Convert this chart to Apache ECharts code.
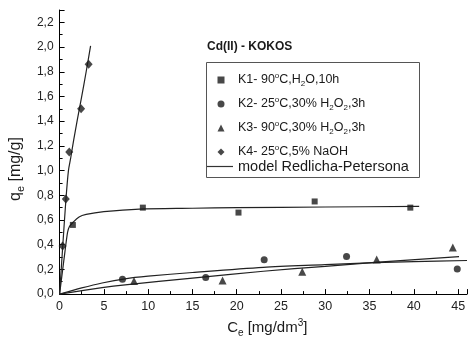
<html>
<head>
    <meta charset="utf-8">
    <script src="https://cdn.jsdelivr.net/npm/echarts@6/dist/echarts.min.js"></script>
    <style>
        body { margin: 0; background: #fff; }
        #chart { width: 470px; height: 343px; }
    </style>
</head>
<body>
    <div id="chart"></div>
    <script>
        // measured points
        var k1X = [1.5, 9.4, 20.2, 28.8, 39.6];
        var k1Y = [0.56, 0.70, 0.66, 0.75, 0.70];
        var k2X = [7.1, 16.5, 23.1, 32.4, 44.9];
        var k2Y = [0.12, 0.135, 0.278, 0.304, 0.204];
        var k3X = [8.4, 18.4, 27.4, 35.8, 44.4];
        var k3Y = [0.106, 0.11, 0.18, 0.28, 0.378];
        var k4X = [0.34, 0.7, 1.09, 2.43, 3.28];
        var k4Y = [0.39, 0.77, 1.15, 1.50, 1.86];

        // model curves
        var m1X = [0, 0.3, 0.6, 0.9, 1.1, 1.5, 2.2, 3, 5, 9, 15, 20, 30, 40.6];
        var m1Y = [0, 0.17, 0.34, 0.50, 0.545, 0.58, 0.625, 0.645, 0.667, 0.688, 0.695, 0.70, 0.705, 0.71];
        var m2X = [0, 2.5, 4.8, 7.4, 10, 15, 23, 30, 35.6, 40, 46];
        var m2Y = [0, 0.05, 0.09, 0.124, 0.145, 0.175, 0.217, 0.238, 0.255, 0.263, 0.272];
        var m3X = [0, 4.8, 7.4, 15, 23, 30, 35.6, 45.1];
        var m3Y = [0, 0.052, 0.075, 0.13, 0.185, 0.225, 0.257, 0.304];
        var m4X = [0, 0.35, 0.71, 1.0, 1.25, 1.6, 2.0, 2.5, 3.0, 3.5];
        var m4Y = [0, 0.38, 0.76, 1.0, 1.10, 1.25, 1.41, 1.60, 1.80, 2.01];

        var legendNames = ['K1', 'K2', 'K3', 'K4'];
        var legendIcons = ['rect', 'circle', 'triangle', 'diamond'];
        var legendText = {
            K1: '{g| }{t|K1- 90}{sup|o}{t|C,H}{sub|2}{t|O,10h}',
            K2: '{g| }{t|K2- 25}{sup|o}{t|C,30% H}{sub|2}{t|O}{sub|2}{t|,3h}',
            K3: '{g| }{t|K3- 90}{sup|o}{t|C,30% H}{sub|2}{t|O}{sub|2}{t|,3h}',
            K4: '{g| }{t|K4- 25}{sup|o}{t|C,5% NaOH}'
        };
        var modelName = 'model Redlicha-Petersona';

        var font = 'Liberation Sans, Arial, sans-serif';
        var ink = '#1a1a1a';

        function pairs(xs, ys) {
            return xs.map(function (x, i) { return [x, ys[i]]; });
        }

        function modelSeries(xs, ys) {
            return {
                name: modelName,
                type: 'line',
                data: pairs(xs, ys),
                symbol: 'none',
                smooth: 0.3,
                color: '#222',
                lineStyle: { color: '#222', width: 1.2 },
                z: 2
            };
        }

        var myChart = echarts.init(document.getElementById('chart'));
        var option = {
            animation: false,
            title: {
                text: 'Cd(II) - KOKOS',
                left: 207,
                top: 41,
                padding: 0,
                textStyle: { fontFamily: font, fontSize: 12, fontWeight: 'bold', color: ink }
            },
            grid: {
                left: 59,
                right: 0,
                top: 10,
                bottom: 44
            },
            legend: [{
                data: legendNames.map(function (n, i) { return { name: n, icon: legendIcons[i] }; }),
                orient: 'vertical',
                left: 217.5,
                top: 72,
                itemWidth: 7,
                itemHeight: 7,
                itemGap: 8,
                padding: 0,
                selectedMode: false,
                formatter: function (name) { return legendText[name]; },
                itemStyle: { color: ink },
                textStyle: {
                    fontFamily: font,
                    color: ink,
                    rich: {
                        g: { width: 8.5, fontSize: 12.5, lineHeight: 16 },
                        t: { fontFamily: font, fontSize: 12.5, lineHeight: 16, color: ink },
                        sup: { fontFamily: font, fontSize: 8, lineHeight: 8, verticalAlign: 'top', color: ink },
                        sub: { fontFamily: font, fontSize: 8, lineHeight: 8, verticalAlign: 'bottom', color: ink }
                    }
                }
            }, {
                data: [{ name: modelName, icon: 'rect' }],
                orient: 'vertical',
                left: 207,
                top: 159,
                itemWidth: 26,
                itemHeight: 1.2,
                padding: 0,
                selectedMode: false,
                itemStyle: { color: '#333' },
                textStyle: { fontFamily: font, fontSize: 14.5, color: ink }
            }],
            graphic: [{
                type: 'rect',
                shape: { x: 206.5, y: 62.5, width: 213, height: 115 },
                style: { fill: 'none', stroke: '#555', lineWidth: 1 },
                z: 10
            }],
            xAxis: {
                type: 'value',
                min: 0,
                max: 46,
                interval: 5,
                name: '{a|C}{s|e}{a| [mg/dm}{p|3}{a|]}',
                nameLocation: 'middle',
                nameGap: 23,
                nameTextStyle: {
                    padding: [0, 0, 0, 8],
                    rich: {
                        a: { fontFamily: font, fontSize: 15, lineHeight: 20, color: ink },
                        s: { fontFamily: font, fontSize: 10, lineHeight: 10, verticalAlign: 'bottom', color: ink },
                        p: { fontFamily: font, fontSize: 10, lineHeight: 10, verticalAlign: 'top', color: ink }
                    }
                },
                axisLine: { lineStyle: { color: '#000', width: 1 } },
                axisTick: { inside: true, length: 5, lineStyle: { color: '#000' } },
                minorTick: { show: true, splitNumber: 2, length: 3, lineStyle: { color: '#000' } },
                splitLine: { show: false },
                axisLabel: {
                    margin: 6,
                    fontFamily: font,
                    fontSize: 12.5,
                    color: '#222',
                    formatter: function (v) { return v > 45 ? '' : v; }
                }
            },
            yAxis: {
                type: 'value',
                min: 0,
                max: 2.3,
                interval: 0.2,
                name: '{a|q}{s|e}{a| [mg/g]}',
                nameLocation: 'middle',
                nameGap: 18,
                nameTextStyle: {
                    padding: [0, 34, 0, 0],
                    rich: {
                        a: { fontFamily: font, fontSize: 16, lineHeight: 20, color: ink },
                        s: { fontFamily: font, fontSize: 11, lineHeight: 11, verticalAlign: 'bottom', color: ink }
                    }
                },
                axisLine: { show: true, lineStyle: { color: '#000', width: 1 } },
                axisTick: { show: true, inside: true, length: 5, lineStyle: { color: '#000' } },
                minorTick: { show: true, splitNumber: 2, length: 3, lineStyle: { color: '#000' } },
                splitLine: { show: false },
                axisLabel: {
                    margin: 6,
                    fontFamily: font,
                    fontSize: 12,
                    color: '#222',
                    formatter: function (v) { return v > 2.25 ? '' : v.toFixed(1).replace('.', ','); }
                }
            },
            series: [
                modelSeries(m1X, m1Y),
                modelSeries(m2X, m2Y),
                modelSeries(m3X, m3Y),
                modelSeries(m4X, m4Y),
                {
                    name: 'K1', type: 'scatter', symbol: 'rect', symbolSize: 6,
                    data: pairs(k1X, k1Y), itemStyle: { color: ink }, z: 3
                },
                {
                    name: 'K2', type: 'scatter', symbol: 'circle', symbolSize: 7,
                    data: pairs(k2X, k2Y), itemStyle: { color: ink }, z: 3
                },
                {
                    name: 'K3', type: 'scatter', symbol: 'triangle', symbolSize: 8,
                    data: pairs(k3X, k3Y), itemStyle: { color: ink }, z: 3
                },
                {
                    name: 'K4', type: 'scatter', symbol: 'diamond', symbolSize: [8, 9],
                    data: pairs(k4X, k4Y), itemStyle: { color: ink }, z: 3
                }
            ]
        };

        myChart.setOption(option);
        window.onresize = myChart.resize;
    </script>
</body>
</html>
